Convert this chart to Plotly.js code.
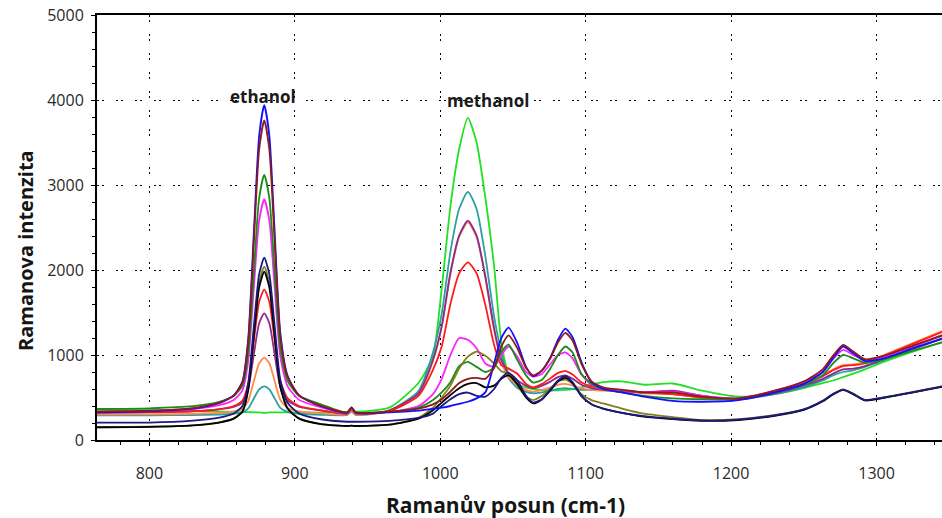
<!DOCTYPE html>
<html>
<head>
<meta charset="utf-8">
<script src="https://cdn.plot.ly/plotly-3.0.1.min.js"></script>
<style>html,body{margin:0;padding:0;background:#fff;}#chart{width:942px;height:518px;}</style>
</head>
<body>
<div id="chart"></div>
<script>
// Raman shift (cm-1) sample positions
const wavenumber = [764, 800, 830, 848, 858, 864, 868, 872, 875.5, 879, 882.5, 886, 890, 895, 903, 918, 936, 939, 942, 965, 985, 995, 1001, 1007, 1013, 1019, 1025, 1031, 1037, 1042, 1047, 1053, 1059, 1064, 1070, 1076, 1081, 1086, 1091, 1097, 1104, 1112, 1125, 1140, 1160, 1180, 1205, 1230, 1250, 1263, 1270, 1277, 1284, 1292, 1305, 1325, 1345];

// Raman intensities
const sLime    = [355, 350, 340, 335, 330, 328, 327, 326, 325, 318, 325, 326, 326, 325, 325, 322, 330, 340, 335, 380, 670, 990, 1780, 2750, 3420, 3790, 3500, 2850, 2050, 1150, 780, 660, 620, 600, 590, 585, 585, 590, 600, 620, 650, 680, 690, 650, 665, 580, 510, 540, 610, 670, 700, 740, 780, 830, 920, 1040, 1150];
const sTeal    = [290, 291, 294, 300, 309, 324, 372, 494, 596, 630, 596, 494, 378, 331, 309, 297, 295, 335, 295, 345, 576, 1030, 1484, 2214, 2718, 2920, 2718, 2164, 1458, 1030, 730, 610, 565, 550, 560, 580, 600, 610, 600, 590, 590, 590, 580, 560, 540, 500, 480, 540, 620, 700, 760, 800, 820, 860, 940, 1070, 1200];
const sOrange  = [300, 302, 308, 320, 337, 367, 461, 702, 903, 970, 903, 702, 474, 380, 337, 313, 300, 345, 300, 340, 530, 930, 1330, 1950, 2390, 2560, 2390, 1910, 1300, 920, 740, 650, 590, 570, 590, 620, 650, 660, 640, 610, 590, 580, 570, 550, 540, 500, 480, 560, 660, 760, 830, 880, 890, 920, 1000, 1140, 1280];
const sPurple  = [325, 328, 339, 360, 389, 442, 605, 1024, 1374, 1490, 1374, 1024, 628, 465, 389, 348, 315, 365, 315, 350, 550, 945, 1337, 1970, 2405, 2580, 2405, 1926, 1316, 945, 780, 700, 640, 610, 640, 690, 740, 760, 720, 650, 610, 590, 575, 560, 580, 520, 480, 550, 640, 720, 780, 830, 840, 870, 950, 1070, 1190];
const sRed     = [320, 324, 337, 364, 400, 465, 668, 1190, 1625, 1770, 1625, 1190, 697, 494, 400, 349, 310, 360, 310, 340, 520, 825, 1100, 1600, 1960, 2090, 1960, 1590, 1120, 880, 840, 780, 660, 620, 660, 730, 790, 810, 770, 680, 630, 600, 580, 560, 540, 500, 490, 570, 660, 750, 820, 870, 880, 900, 990, 1130, 1270];
const sMagenta = [335, 342, 365, 410, 472, 585, 934, 1832, 2581, 2830, 2581, 1832, 984, 634, 472, 385, 315, 370, 315, 330, 400, 540, 720, 1000, 1200, 1180, 1080, 900, 860, 1000, 1100, 980, 800, 745, 780, 900, 1000, 1030, 960, 770, 650, 600, 580, 560, 570, 520, 490, 580, 680, 800, 950, 1060, 1000, 940, 980, 1100, 1230];
const sGreen   = [365, 373, 398, 448, 517, 641, 1026, 2018, 2845, 3120, 2845, 2018, 1081, 696, 517, 420, 320, 375, 320, 330, 380, 470, 560, 680, 870, 920, 860, 800, 850, 1040, 1122, 940, 760, 675, 710, 850, 1000, 1100, 1030, 780, 660, 600, 560, 520, 490, 480, 480, 560, 650, 760, 900, 1000, 960, 910, 950, 1050, 1150];
const sOlive   = [150, 156, 173, 207, 254, 339, 604, 1284, 1851, 2040, 1851, 1284, 641, 377, 254, 188, 165, 168, 165, 180, 260, 380, 500, 640, 840, 980, 1040, 990, 900, 810, 780, 640, 510, 470, 520, 610, 690, 710, 660, 540, 470, 430, 370, 310, 270, 235, 245, 295, 360, 460, 540, 595, 545, 470, 500, 565, 630];
const sBlack   = [150, 155, 172, 205, 251, 333, 589, 1248, 1797, 1980, 1797, 1248, 626, 370, 251, 187, 165, 168, 165, 180, 250, 350, 440, 530, 610, 660, 670, 620, 640, 720, 760, 660, 500, 430, 480, 590, 690, 730, 670, 520, 420, 370, 320, 275, 245, 225, 235, 285, 355, 455, 535, 590, 540, 465, 495, 560, 625];
const sNavy    = [205, 205, 228, 263, 312, 399, 671, 1369, 1951, 2144, 1951, 1369, 709, 438, 312, 244, 215, 215, 215, 225, 260, 310, 400, 480, 540, 558, 520, 510, 600, 730, 790, 700, 520, 440, 480, 600, 700, 750, 680, 520, 420, 370, 320, 280, 250, 230, 240, 290, 360, 460, 540, 590, 540, 470, 500, 560, 630];
const sBlue    = [325, 336, 368, 433, 524, 687, 1193, 2494, 3579, 3940, 3579, 2494, 1265, 759, 524, 397, 320, 385, 320, 325, 345, 365, 380, 400, 425, 450, 490, 560, 900, 1200, 1322, 1140, 860, 750, 820, 980, 1180, 1310, 1210, 920, 680, 600, 560, 510, 460, 450, 470, 560, 660, 800, 960, 1100, 1020, 930, 960, 1080, 1190];
const sMaroon  = [335, 345, 376, 438, 523, 678, 1157, 2390, 3418, 3760, 3418, 2390, 1226, 746, 523, 403, 325, 385, 325, 335, 370, 420, 480, 570, 670, 720, 730, 720, 850, 1100, 1230, 1080, 850, 760, 820, 970, 1150, 1260, 1170, 900, 690, 620, 590, 560, 560, 510, 490, 580, 690, 830, 990, 1120, 1040, 950, 990, 1110, 1230];

const seriesData   = [sLime, sTeal, sOrange, sPurple, sRed, sMagenta, sGreen, sOlive, sBlack, sNavy, sBlue, sMaroon];
const seriesNames  = ['lime', 'teal', 'orange', 'purple', 'red', 'magenta', 'green', 'olive', 'black', 'navy', 'blue', 'maroon'];
const seriesColors = ['#22e022', '#2aa0a0', '#ff8a50', '#8b2c8b', '#ff1a1a', '#ff22ff', '#1a8c1a', '#80801a', '#000000', '#1a1a80', '#1010ff', '#8b1a1a'];

const xTicks = [800, 900, 1000, 1100, 1200, 1300];
const yTicks = [0, 1000, 2000, 3000, 4000, 5000];
const peakLabels = ['ethanol', 'methanol'];
const peakLabelX = [878, 1033];
const peakLabelY = [4040, 3990];

const traces = seriesData.map((y, i) => ({
  type: 'scatter', mode: 'lines', x: wavenumber, y: y, name: seriesNames[i],
  line: {color: seriesColors[i], width: 1.8, shape: 'spline', smoothing: 0.6},
  hoverinfo: 'skip'
}));

const fontFam = 'Open Sans, DejaVu Sans, sans-serif';
const tickFont = {family: fontFam, size: 16, color: '#2a2a2a'};
const gridDash = '2px,3px,2px,12px';

const annotations = peakLabels.map((t, i) => ({
  text: '<b>' + t + '</b>', x: peakLabelX[i], y: peakLabelY[i], xref: 'x', yref: 'y',
  showarrow: false, font: {family: fontFam, size: 17, color: '#1a1a1a'},
  xanchor: 'center', yanchor: 'middle'
}));
annotations.push({text: '<b>Ramanův posun (cm-1)</b>', xref: 'paper', yref: 'paper', x: 0.483, y: -0.153,
  showarrow: false, font: {family: fontFam, size: 21, color: '#151515'}, xanchor: 'center', yanchor: 'middle'});
annotations.push({text: '<b>Ramanova intenzita</b>', xref: 'paper', yref: 'paper', x: -0.0852, y: 0.4447,
  showarrow: false, font: {family: fontFam, size: 20, color: '#151515'}, textangle: -90, xanchor: 'center', yanchor: 'middle'});

const layout = {
  width: 942, height: 518,
  margin: {l: 97, r: 0, t: 15, b: 78},
  paper_bgcolor: '#ffffff', plot_bgcolor: '#ffffff',
  showlegend: false,
  xaxis: {
    range: [764, 1345], tickvals: xTicks, ticktext: xTicks.map(String),
    showline: true, linecolor: '#000', linewidth: 2, mirror: true,
    ticks: 'outside', ticklen: 4, tickcolor: '#000', tickwidth: 1,
    minor: {dtick: 20, tick0: 800, ticks: 'outside', ticklen: 3, tickcolor: '#000', showgrid: false},
    showgrid: true, gridcolor: '#000', gridwidth: 1, griddash: gridDash,
    zeroline: false, tickfont: tickFont, ticklabelstandoff: 14
  },
  yaxis: {
    range: [0, 5000], tickvals: yTicks, ticktext: yTicks.map(String),
    showline: true, linecolor: '#000', linewidth: 2,
    ticks: 'outside', ticklen: 4, tickcolor: '#000', tickwidth: 1,
    minor: {dtick: 200, tick0: 0, ticks: 'outside', ticklen: 3, tickcolor: '#000', showgrid: false},
    showgrid: true, gridcolor: '#000', gridwidth: 1, griddash: gridDash,
    zeroline: false, tickfont: tickFont, ticklabelstandoff: 4
  },
  annotations: annotations
};

Plotly.newPlot('chart', traces, layout, {staticPlot: true, displayModeBar: false});
</script>
</body>
</html>
